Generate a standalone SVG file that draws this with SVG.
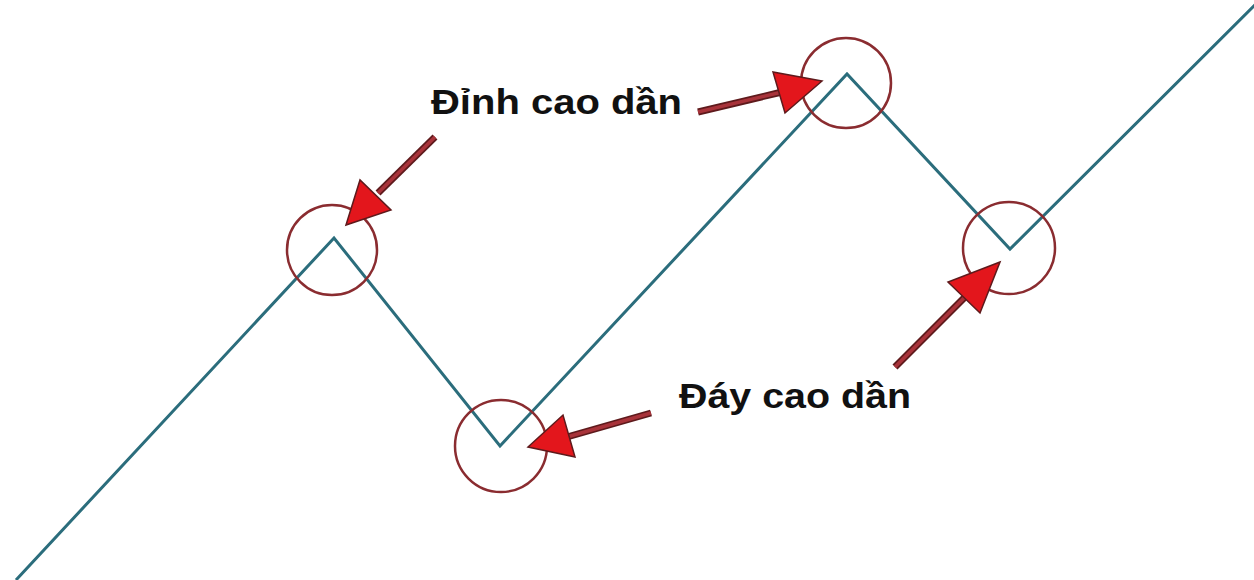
<svg xmlns="http://www.w3.org/2000/svg" width="1254" height="580" viewBox="0 0 1254 580">
<style>
.trend{fill:none;stroke:#2b6d7c;stroke-width:3;stroke-linejoin:miter}
.ring{fill:none;stroke:#8a2c30;stroke-width:2.5}
.shaftO{stroke:#5e1a1c;stroke-width:7;stroke-linecap:butt}
.shaftI{stroke:#a8333a;stroke-width:3.5;stroke-linecap:butt}
.head{fill:#e3161c;stroke:#5e1a1c;stroke-width:1.5;stroke-linejoin:miter}
.lbl{font-family:"Liberation Sans",Arial,sans-serif;font-weight:bold;font-size:35px;fill:#111}
</style>
<rect width="1254" height="580" fill="#ffffff"/>
<g id="connectors">
<polyline class="trend" points="16,580 334,238 500,446 847,74 1010,249 1256,4"/>
</g>
<g id="peak1"><circle class="ring" cx="332" cy="250" r="45"/></g>
<g id="trough1"><circle class="ring" cx="501" cy="446" r="46"/></g>
<g id="peak2"><circle class="ring" cx="846" cy="83" r="45"/></g>
<g id="trough2"><circle class="ring" cx="1009" cy="248" r="46"/></g>
<g id="arrow1">
<line class="shaftO" x1="435" y1="137" x2="378" y2="193"/>
<line class="shaftI" x1="435" y1="137" x2="378" y2="193"/>
<polygon class="head" points="346,225 360,180 391,210"/>
</g>
<g id="arrow2">
<line class="shaftO" x1="698" y1="112" x2="782" y2="92"/>
<line class="shaftI" x1="698" y1="112" x2="782" y2="92"/>
<polygon class="head" points="822,81 773,72 785,113"/>
</g>
<g id="arrow3">
<line class="shaftO" x1="651" y1="413" x2="567" y2="437"/>
<line class="shaftI" x1="651" y1="413" x2="567" y2="437"/>
<polygon class="head" points="528,447 563,415 575,457"/>
</g>
<g id="arrow4">
<line class="shaftO" x1="895" y1="367" x2="966" y2="296"/>
<line class="shaftI" x1="895" y1="367" x2="966" y2="296"/>
<polygon class="head" points="1000,262 948,282 980,313"/>
</g>
<g id="label-top"><text class="lbl" x="431" y="114" textLength="251" lengthAdjust="spacingAndGlyphs">Đỉnh cao dần</text></g>
<g id="label-bottom"><text class="lbl" x="679" y="408" textLength="232" lengthAdjust="spacingAndGlyphs">Đáy cao dần</text></g>
</svg>
